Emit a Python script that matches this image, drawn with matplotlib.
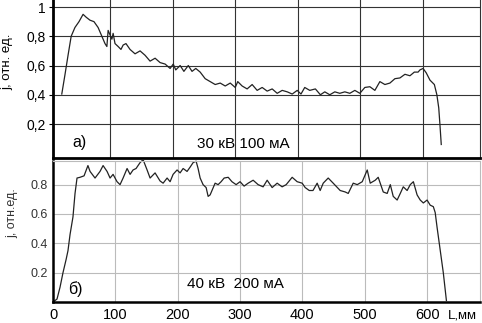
import matplotlib
matplotlib.use("Agg")
import matplotlib.pyplot as plt

plt.rcParams['font.family'] = ['Liberation Sans', 'DejaVu Sans']

# Panel a) 30 kV 100 mA
L_a = [23, 28, 33, 38, 44, 50.5, 57, 62, 68, 74.4, 81, 87, 92, 95, 97, 100, 103, 105,
       108, 113, 117.5, 121, 125.5, 132, 140, 148, 156, 164, 172, 180, 188, 196, 201,
       205, 212, 218, 225, 231, 237, 244, 252, 260, 268, 276, 284, 292, 300, 304, 311,
       319, 327, 335, 343, 351, 359, 367, 375, 383, 391, 399, 405, 411, 419, 428, 436,
       443, 451, 459, 467, 475, 483, 491, 499, 507, 515, 523, 531, 539, 547, 555, 563,
       571, 579, 586, 592, 595, 600, 605, 611, 618, 622, 625, 627, 629]
j_a = [0.405, 0.535, 0.67, 0.80, 0.86, 0.90, 0.95, 0.93, 0.91, 0.90, 0.86, 0.80, 0.75,
       0.73, 0.84, 0.81, 0.78, 0.82, 0.75, 0.73, 0.71, 0.74, 0.75, 0.71, 0.68, 0.70,
       0.67, 0.63, 0.65, 0.62, 0.61, 0.58, 0.61, 0.57, 0.60, 0.56, 0.60, 0.56, 0.58,
       0.555, 0.51, 0.49, 0.47, 0.48, 0.46, 0.48, 0.45, 0.49, 0.46, 0.44, 0.47, 0.43,
       0.45, 0.425, 0.44, 0.41, 0.43, 0.42, 0.405, 0.43, 0.405, 0.45, 0.43, 0.44, 0.40,
       0.42, 0.40, 0.42, 0.41, 0.42, 0.41, 0.43, 0.41, 0.45, 0.455, 0.43, 0.49, 0.47,
       0.48, 0.51, 0.515, 0.54, 0.53, 0.555, 0.555, 0.57, 0.58, 0.55, 0.50, 0.47, 0.40,
       0.31, 0.19, 0.06]

# Panel б) 40 kV 200 mA
L_b = [0, 6.4, 11.2, 16, 21, 24, 27.3, 32, 35.3, 38.5, 43.3, 49.8, 56, 59.4, 67.4, 75.4,
       80.3, 86.7, 91.5, 96.3, 102.7, 107.5, 112.4, 118.8, 123.6, 128.4, 133.2, 139.6,
       144.5, 150.9, 155.7, 163.7, 171.7, 176.6, 183, 187.8, 192.6, 199, 203.8, 208.7,
       215, 220, 224.7, 229.5, 232.7, 236, 240.7, 245.6, 248.8, 252, 255, 260, 264.8,
       269.6, 274.5, 281, 287, 293.7, 300, 306.5, 313, 321, 329, 337, 343.5, 351.5,
       359.5, 367.5, 374, 383.6, 391.6, 399.6, 404.5, 411, 417, 423.7, 428.5, 433.4,
       441.4, 449.4, 460.6, 468.7, 473.5, 481.5, 488, 496, 504, 508.8, 516.8, 521.6,
       529.7, 536, 541, 545.7, 552, 557, 561.8, 568, 573, 578, 584, 589, 594, 600, 605,
       610, 613, 616, 621, 626, 631]
j_b = [0.0, 0.02, 0.10, 0.20, 0.29, 0.35, 0.46, 0.58, 0.74, 0.845, 0.85, 0.86, 0.93,
       0.89, 0.845, 0.89, 0.93, 0.89, 0.845, 0.87, 0.82, 0.80, 0.845, 0.91, 0.87, 0.90,
       0.91, 0.95, 0.97, 0.90, 0.845, 0.88, 0.825, 0.81, 0.845, 0.82, 0.87, 0.90, 0.88,
       0.91, 0.89, 0.92, 0.95, 0.96, 0.91, 0.845, 0.80, 0.78, 0.72, 0.73, 0.76, 0.81,
       0.80, 0.82, 0.845, 0.85, 0.82, 0.80, 0.82, 0.79, 0.81, 0.83, 0.80, 0.785, 0.83,
       0.78, 0.81, 0.785, 0.80, 0.85, 0.82, 0.81, 0.78, 0.76, 0.76, 0.81, 0.76, 0.81,
       0.845, 0.81, 0.76, 0.75, 0.74, 0.81, 0.80, 0.82, 0.90, 0.81, 0.83, 0.85, 0.75,
       0.74, 0.80, 0.72, 0.695, 0.74, 0.785, 0.76, 0.80, 0.82, 0.73, 0.695, 0.675,
       0.695, 0.66, 0.65, 0.61, 0.51, 0.355, 0.20, 0.01]

yt_a = [0.2, 0.4, 0.6, 0.8, 1.0]
yl_a = ["0,2", "0,4", "0,6", "0,8", "1"]
xt = [100, 200, 300, 400, 500, 600]
yt_b = [0.2, 0.4, 0.6, 0.8]
yl_b = ["0.2", "0.4", "0.6", "0.8"]
xt_b = [0, 100, 200, 300, 400, 500, 600]

fig = plt.figure(figsize=(4.82, 3.23), dpi=100)

# ---------- top panel ----------
ax1 = fig.add_axes([0.110, 0.511, 0.886, 0.489])
ax1.plot(L_a, j_a, color="#222222", lw=0.9)
ax1.set_xlim(9, 691)
ax1.set_ylim(-0.032, 1.048)
ax1.set_yticks(yt_a)
ax1.set_yticklabels(yl_a, fontsize=10)
ax1.set_xticks(xt)
ax1.tick_params(axis='x', length=0, labelbottom=False)
ax1.tick_params(axis='y', length=3, width=0.8, pad=2)
ax1.grid(True, color="#333333", lw=0.8)
for s in ['left', 'bottom']:
    ax1.spines[s].set_linewidth(2.0)
    ax1.spines[s].set_color("black")
ax1.spines['top'].set_visible(False)
ax1.spines['right'].set_linewidth(0.8)
ax1.spines['right'].set_color("#333333")
ax1.set_ylabel("j, отн. ед.", fontsize=9.5)
ax1.yaxis.set_label_coords(-0.092, 0.61)
ax1.text(0.045, 0.07, "а)", transform=ax1.transAxes, fontsize=11.5)
ax1.text(0.337, 0.06, "30 кВ 100 мА", transform=ax1.transAxes, fontsize=11)

# ---------- bottom panel ----------
ax2 = fig.add_axes([0.110, 0.065, 0.886, 0.4365])
ax2.plot(L_b, j_b, color="#222222", lw=0.9, clip_on=False)
ax2.set_xlim(0, 685)
ax2.set_ylim(0, 0.961)
ax2.set_yticks(yt_b)
ax2.set_yticklabels(yl_b, fontsize=9, color="#333333")
ax2.set_xticks(xt_b)
ax2.set_xticklabels([str(v) for v in xt_b], fontsize=10.5)
ax2.tick_params(axis='both', length=0, pad=4)
ax2.grid(True, color="#bbbbbb", lw=0.8)
for s in ['left', 'bottom']:
    ax2.spines[s].set_linewidth(1.8)
    ax2.spines[s].set_color("black")
for s in ['top', 'right']:
    ax2.spines[s].set_linewidth(0.8)
    ax2.spines[s].set_color("#bbbbbb")
ax2.set_ylabel("j, отн.ед.", fontsize=9, color="#333333")
ax2.yaxis.set_label_coords(-0.082, 0.63)
ax2.text(0.035, 0.06, "б)", transform=ax2.transAxes, fontsize=11.5)
ax2.text(0.314, 0.10, "40 кВ  200 мА", transform=ax2.transAxes, fontsize=11)
ax2.text(0.925, -0.095, "L,мм", transform=ax2.transAxes, fontsize=9.5, va='center')

fig.savefig("out.png", dpi=100)
